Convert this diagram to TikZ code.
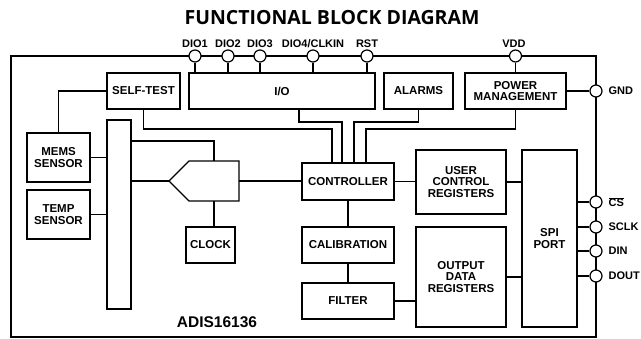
\documentclass[tikz,border=0pt]{standalone}
\usepackage{fontspec}
\setmainfont{Liberation Sans}
\newfontfamily\titlefont{Open Sans}
\begin{document}
\begin{tikzpicture}[x=1pt,y=-1pt,line width=1.2pt,
  blk/.style={draw, fill=white, inner sep=0pt, align=center, font=\fontsize{11.5}{11.7}\selectfont\bfseries},
  pinc/.style={circle, draw, fill=white, minimum size=12pt, inner sep=0pt},
  plab/.style={font=\fontsize{11}{11}\selectfont\bfseries, inner sep=0pt}]
\useasboundingbox (0,0) rectangle (641,338);
% title
\node[font=\titlefont\bfseries\fontsize{19.5}{19.5}\selectfont, inner sep=0pt] (title) at (332,18) {FUNCTIONAL BLOCK DIAGRAM};
% outer border
\draw (11,56) rectangle (596,337);
% blocks
\node[blk, minimum width=73pt, minimum height=36pt] (selftest) at (143.5,91) {SELF-TEST};
\node[blk, minimum width=186pt, minimum height=36pt] (io) at (282,91) {I/O};
\node[blk, minimum width=69pt, minimum height=36pt] (alarms) at (418.5,91) {ALARMS};
\node[blk, minimum width=101pt, minimum height=36pt] (power) at (515.5,91) {POWER\\MANAGEMENT};
\node[blk, minimum width=63pt, minimum height=49pt] (mems) at (58.5,157.5) {MEMS\\SENSOR};
\node[blk, minimum width=63pt, minimum height=49pt] (temp) at (58.5,214.5) {TEMP\\SENSOR};
\node[blk, minimum width=24pt, minimum height=189pt] (bar) at (119,214.5) {};
\node[blk, minimum width=92pt, minimum height=37pt] (ctrl) at (348,181.5) {CONTROLLER};
\node[blk, minimum width=49pt, minimum height=36pt] (clock) at (210.5,245) {CLOCK};
\node[blk, minimum width=92pt, minimum height=36pt] (calib) at (348,245) {CALIBRATION};
\node[blk, minimum width=92pt, minimum height=36pt] (filter) at (348,301) {FILTER};
\node[blk, minimum width=90pt, minimum height=64pt] (ucr) at (461,182) {USER\\CONTROL\\REGISTERS};
\node[blk, minimum width=90pt, minimum height=100pt] (odr) at (461,277) {OUTPUT\\DATA\\REGISTERS};
\node[blk, minimum width=55pt, minimum height=177pt] (spi) at (549.5,238.5) {SPI\\PORT};
% ADC shape
\coordinate (adctip) at (169,181);
\coordinate (adctop) at (214,161);
\coordinate (adcbot) at (214,201);
\coordinate (adcout) at (239,181);
\draw (adctip) -- (189,161) -- (239,161) -- (239,201) -- (189,201) -- cycle;
\node[font=\fontsize{15.5}{15.5}\selectfont\bfseries, inner sep=0pt] (part) at (217,322.5) {ADIS16136};
% connectors
\draw (selftest.west) -| (mems.north);
\draw (mems.east) -- (mems.east -| bar.west);
\draw (temp.east) -- (temp.east -| bar.west);
\draw (bar.east |- 0,141) -| (adctop);
\draw (bar.east |- adctip) -- (adctip);
\draw (adcout) -- (ctrl.west |- adcout);
\draw (adcbot) -- (adcbot |- clock.north);
\draw (selftest.south) |- (332,129) -- (ctrl.north -| 332,0);
\draw (io.south -| 299,0) |- (342,122) -- (ctrl.north -| 342,0);
\draw (alarms.south) |- (354,122) -- (ctrl.north -| 354,0);
\draw (power.south) |- (366,129) -- (ctrl.north -| 366,0);
\draw (ctrl.east) -- (ctrl.east -| ucr.west);
\draw (ucr.east) -- (ucr.east -| spi.west);
\draw (odr.east) -- (odr.east -| spi.west);
\draw (filter.east) -- (filter.east -| odr.west);
\draw (ctrl.south) -- (calib.north);
\draw (calib.south) -- (filter.north);
% pins
\node[pinc] (dio1) at (195,56) {};
\node[pinc] (dio2) at (228,56) {};
\node[pinc] (dio3) at (260,56) {};
\node[pinc] (dio4) at (313,56) {};
\node[pinc] (rst) at (367,56) {};
\node[pinc] (vdd) at (515.5,56) {};
\node[pinc] (gnd) at (596,91) {};
\node[pinc] (cs) at (596,202) {};
\node[pinc] (sclk) at (596,227) {};
\node[pinc] (din) at (596,251) {};
\node[pinc] (dout) at (596,276) {};
\foreach \p in {dio1,dio2,dio3,dio4,rst} \draw (\p) -- (\p |- io.north);
\draw (vdd) -- (power.north);
\draw (power.east) -- (gnd);
\foreach \p in {cs,sclk,din,dout} \draw (spi.east |- \p) -- (\p);
% pin labels
\node[plab, anchor=base] (ldio1) at (195,47) {DIO1};
\node[plab, anchor=base] (ldio2) at (228,47) {DIO2};
\node[plab, anchor=base] (ldio3) at (260,47) {DIO3};
\node[plab, anchor=base] (ldio4) at (313,47) {DIO4/CLKIN};
\node[plab, anchor=base] (lrst) at (367,47) {RST};
\node[plab, anchor=base] (lvdd) at (514,47) {VDD};
\node[plab, anchor=west] (lgnd) at (608,91) {GND};
\node[plab, anchor=west] (lcs) at (608,202) {$\overline{\hbox{\bfseries CS}}$};
\node[plab, anchor=west] (lsclk) at (608,227) {SCLK};
\node[plab, anchor=west] (ldin) at (608,251) {DIN};
\node[plab, anchor=west] (ldout) at (608,276) {DOUT};
\end{tikzpicture}
\end{document}
